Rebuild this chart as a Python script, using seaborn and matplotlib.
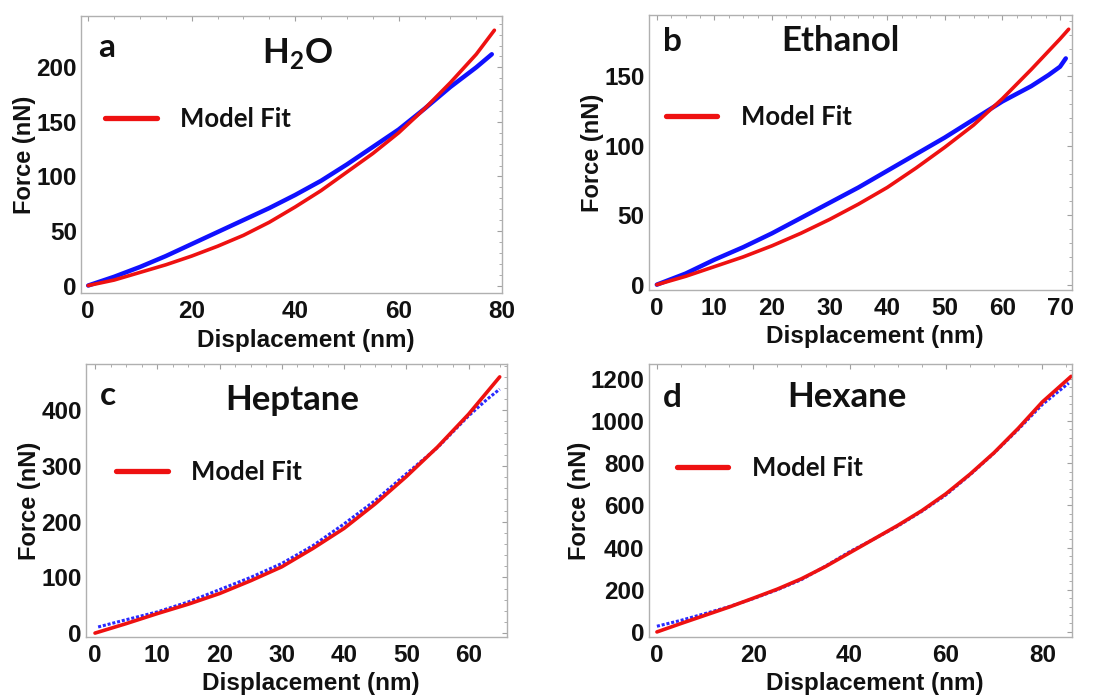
import numpy as np
import pandas as pd
import seaborn as sns
from matplotlib import pyplot as plt
from matplotlib.ticker import AutoMinorLocator

# ---- data (Displacement nm, Force nN) ----
# a  H2O
a_exp_x = [0, 5, 10, 15, 20, 25, 30, 35, 40, 45, 50, 55, 60, 65, 70, 75, 78]
a_exp_y = [0, 8, 17, 27, 38, 49, 60, 71, 83, 96, 111, 127, 143, 162, 182, 200, 212]
a_fit_x = [0, 5, 10, 15, 20, 25, 30, 35, 40, 45, 50, 55, 60, 65, 70, 75, 78.5]
a_fit_y = [0, 5, 12, 19, 27, 36, 46, 58, 72, 87, 104, 121, 140, 162, 186, 212, 234]
# b  Ethanol
b_exp_x = [0, 5, 10, 15, 20, 25, 30, 35, 40, 45, 50, 55, 60, 65, 68, 70, 71]
b_exp_y = [0, 8, 18, 27, 37, 48, 59, 70, 82, 94, 106, 119, 132, 143, 151, 157, 163]
b_fit_x = [0, 5, 10, 15, 20, 25, 30, 35, 40, 45, 50, 55, 60, 65, 70, 71.5]
b_fit_y = [0, 6, 13, 20, 28, 37, 47, 58, 70, 84, 99, 115, 134, 155, 177, 184]
# c  Heptane
c_exp_x = [0.5, 5, 10, 15, 20, 25, 30, 35, 40, 45, 50, 55, 60, 63, 65]
c_exp_y = [11, 24, 38, 56, 78, 100, 125, 157, 196, 238, 286, 333, 390, 420, 438]
c_fit_x = [0, 5, 10, 15, 20, 25, 30, 35, 40, 45, 50, 55, 60, 65]
c_fit_y = [0, 17, 35, 52, 71, 94, 119, 152, 188, 232, 281, 334, 393, 460]
# d  Hexane
d_exp_x = [0, 5, 10, 15, 20, 25, 30, 35, 40, 45, 50, 55, 60, 65, 70, 75, 80, 85.5]
d_exp_y = [27, 55, 87, 120, 158, 200, 248, 312, 380, 440, 502, 572, 650, 745, 848, 960, 1078, 1180]
d_fit_x = [0, 5, 10, 15, 20, 25, 30, 35, 40, 45, 50, 55, 60, 65, 70, 75, 80, 86]
d_fit_y = [0, 40, 79, 118, 160, 203, 252, 310, 375, 440, 505, 575, 655, 748, 850, 965, 1090, 1212]

letters = ["a", "b", "c", "d"]
titles = [r"H$_\mathbf{2}$O", "Ethanol", "Heptane", "Hexane"]

sns.set_style("white")
plt.rcParams['font.family'] = ['Liberation Sans', 'DejaVu Sans']
plt.rcParams['mathtext.fontset'] = 'custom'
plt.rcParams['mathtext.rm'] = 'Lato'
plt.rcParams['mathtext.bf'] = 'Lato:bold'

fig = plt.figure(figsize=(10.94, 6.98), dpi=100)

panels = [
    dict(pos=[0.074, 0.580, 0.385, 0.397], ex=a_exp_x, ey=a_exp_y, fx=a_fit_x, fy=a_fit_y,
         xlim=(-1.4, 80), ylim=(-7, 247), xt=np.arange(0, 81, 20), yt=np.arange(0, 201, 50),
         dense=True, leg=(0.058, 0.630), title=(0.513, 0.866), letter=(0.04, 0.888)),
    dict(pos=[0.593, 0.585, 0.387, 0.393], ex=b_exp_x, ey=b_exp_y, fx=b_fit_x, fy=b_fit_y,
         xlim=(-1.4, 72.1), ylim=(-3.6, 194), xt=np.arange(0, 71, 10), yt=np.arange(0, 151, 50),
         dense=True, leg=(0.041, 0.630), title=(0.452, 0.905), letter=(0.033, 0.905)),
    dict(pos=[0.0786, 0.0874, 0.385, 0.391], ex=c_exp_x, ey=c_exp_y, fx=c_fit_x, fy=c_fit_y,
         xlim=(-1.45, 66.2), ylim=(-7, 483), xt=np.arange(0, 61, 10), yt=np.arange(0, 401, 100),
         dense=False, leg=(0.072, 0.603), title=(0.489, 0.868), letter=(0.033, 0.886)),
    dict(pos=[0.593, 0.0874, 0.387, 0.391], ex=d_exp_x, ey=d_exp_y, fx=d_fit_x, fy=d_fit_y,
         xlim=(-1.7, 86.2), ylim=(-24, 1270), xt=np.arange(0, 81, 20), yt=np.arange(0, 1201, 200),
         dense=False, leg=(0.067, 0.618), title=(0.468, 0.879), letter=(0.033, 0.879)),
]

for i, p in enumerate(panels):
    ax = fig.add_axes(p["pos"])
    exp = pd.DataFrame({"x": p["ex"], "y": p["ey"]})
    fit = pd.DataFrame({"x": p["fx"], "y": p["fy"]})
    if p["dense"]:
        sns.lineplot(data=exp, x="x", y="y", ax=ax, color="#1010ff", lw=3.2)
    else:
        sns.lineplot(data=exp, x="x", y="y", ax=ax, color="#2a2aff", lw=2.2, linestyle=(0, (1, 0.6)))
    sns.lineplot(data=fit, x="x", y="y", ax=ax, color="#ee1111", lw=2.6, label="Model Fit")

    ax.set_xlim(p["xlim"])
    ax.set_ylim(p["ylim"])
    ax.set_xticks(p["xt"])
    ax.set_yticks(p["yt"])
    ax.xaxis.set_minor_locator(AutoMinorLocator(4))
    ax.yaxis.set_minor_locator(AutoMinorLocator(5))
    ax.tick_params(which="both", direction="in", top=True, right=True, color="#a0a0a0")
    ax.tick_params(which="major", length=3.5, width=0.8, labelsize=17.5, pad=3,
                   labelcolor="#111111")
    ax.tick_params(axis="x", which="major", pad=5)
    ax.tick_params(which="minor", length=2, width=0.6)
    for t in ax.get_xticklabels() + ax.get_yticklabels():
        t.set_fontweight("bold")
    for s in ax.spines.values():
        s.set_color("#b0b0b0")
        s.set_linewidth(1.0)

    ax.set_xlabel("Displacement (nm)", fontsize=17.5, fontweight="bold", labelpad=5,
                  color="#111111")
    ax.xaxis.set_label_coords(0.533, -0.13)
    ax.set_ylabel("Force (nN)", fontsize=17, fontweight="bold", labelpad=0, color="#111111")

    leg = ax.legend(loc="center left", bbox_to_anchor=p["leg"], frameon=False,
                    handlelength=2.0, handletextpad=0.9, borderpad=0, borderaxespad=0,
                    prop={"family": "Lato", "weight": "bold", "size": 18.5})
    for h in leg.get_lines():
        h.set_linewidth(3.8)
    for t in leg.get_texts():
        t.set_color("#111111")

    ax.text(p["title"][0], p["title"][1], titles[i], transform=ax.transAxes,
            ha="center", va="center", fontsize=25, fontweight="bold", family="Lato",
            color="#111111")
    ax.text(p["letter"][0], p["letter"][1], letters[i], transform=ax.transAxes,
            ha="left", va="center", fontsize=24, fontweight="bold", family="Lato",
            color="#111111")

plt.savefig("out.png", dpi=100)
